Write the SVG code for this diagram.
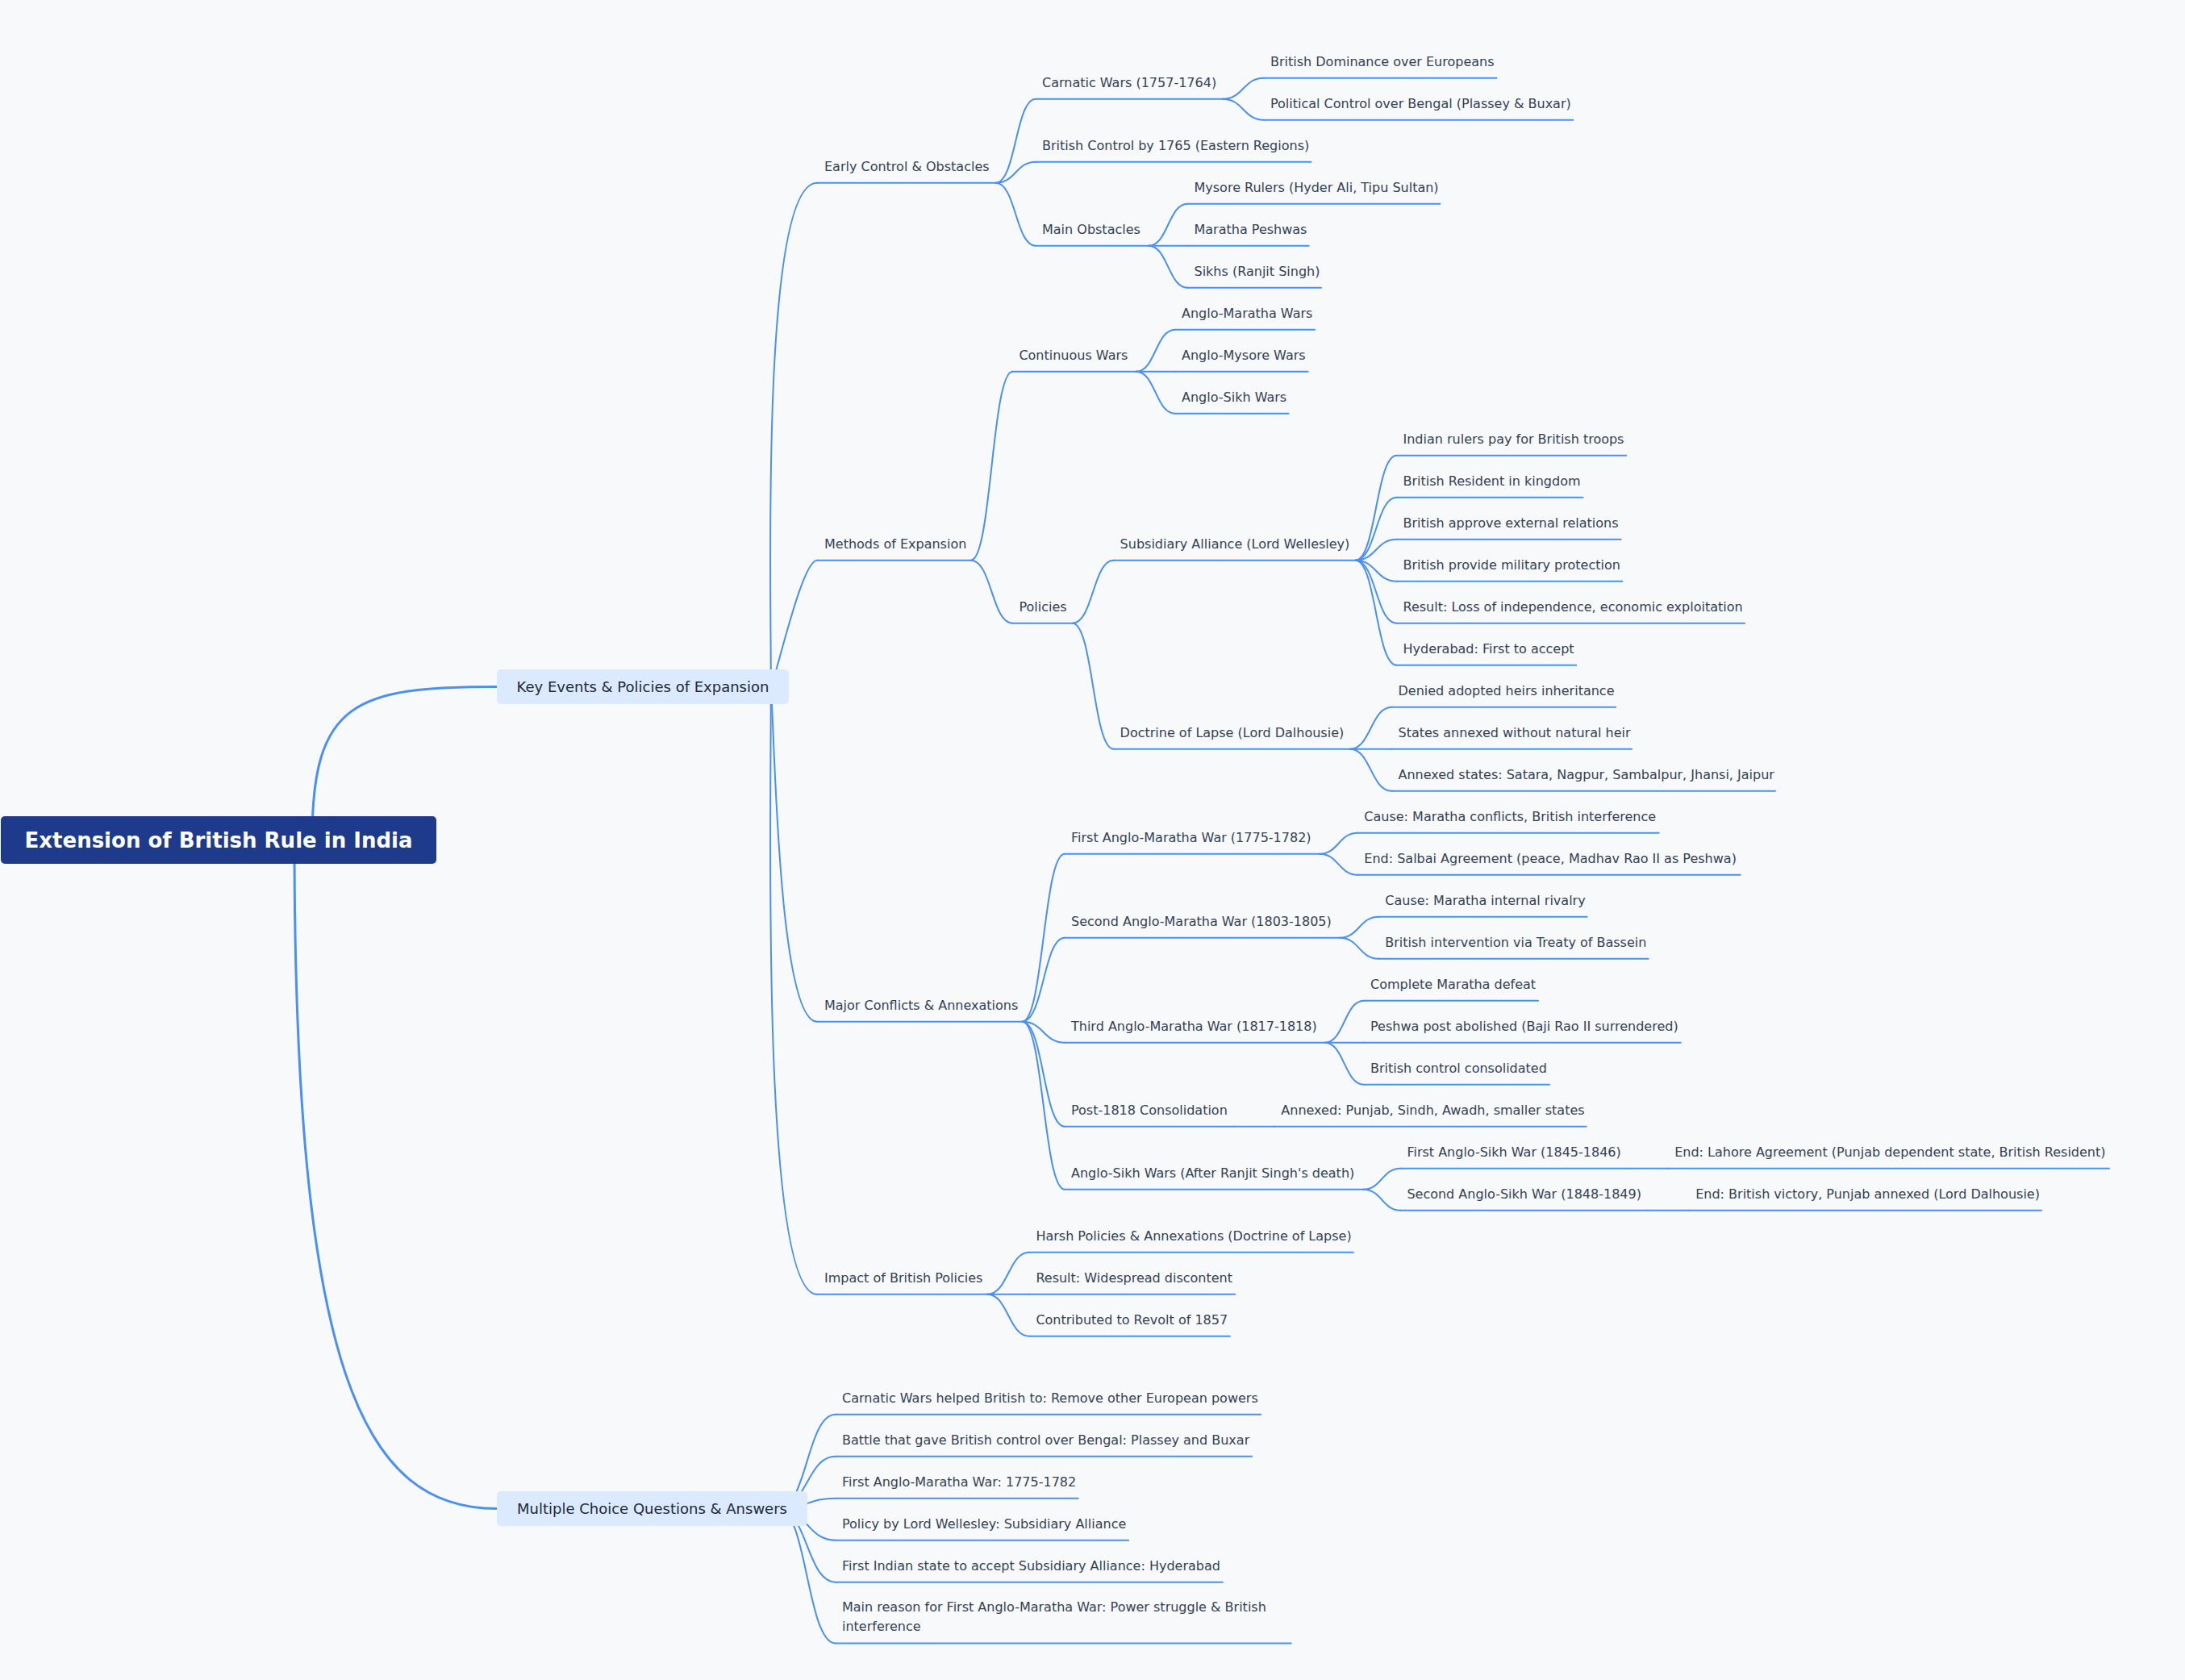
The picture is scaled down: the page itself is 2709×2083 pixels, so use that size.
<svg xmlns="http://www.w3.org/2000/svg" width="2709" height="2083" viewBox="0 0 2709 2083">
<style>
.bg{fill:#f8f9fb}
.lk{fill:none;stroke:#4a8ff2;stroke-width:2;stroke-linecap:round}
.lk0{fill:none;stroke:#4a8ff2;stroke-width:3;stroke-linecap:round}
.ul{stroke:#4a8ff2;stroke-width:2;stroke-linecap:round}
.t{font-family:"DejaVu Sans",sans-serif;font-size:16px;fill:#334155}
.b1{fill:#dbeafe}
.t1{font-family:"DejaVu Sans",sans-serif;font-size:18px;fill:#1e293b;text-anchor:middle}
.rb{fill:#1e3a8a}
.rt{font-family:"DejaVu Sans",sans-serif;font-size:26px;font-weight:bold;fill:#ffffff;text-anchor:middle}
</style>
<rect class="bg" x="0" y="0" width="2709" height="2083"/>
<g id="connectors">
<path class="lk0" d="M387,1041 C387,870 440,851.5 616,851.5"/>
<path class="lk0" d="M365,1041 C365,1700 450,1870.5 616,1870.5"/>
<path class="lk" d="M955,851.5 C960,851.5 935,226.7 1013,226.7"/>
<path class="lk" d="M955,851.5 C960,851.5 993,694.7 1013,694.7"/>
<path class="lk" d="M955,851.5 C960,851.5 961,1266.7 1013,1266.7"/>
<path class="lk" d="M955,851.5 C960,851.5 935,1604.7 1013,1604.7"/>
<path class="lk" d="M1234.6,226.7 C1259.3,226.7 1259.3,122.7 1284,122.7"/>
<path class="lk" d="M1234.6,226.7 C1259.3,226.7 1259.3,200.7 1284,200.7"/>
<path class="lk" d="M1234.6,226.7 C1259.3,226.7 1259.3,304.7 1284,304.7"/>
<path class="lk" d="M1516,122.7 C1541.5,122.7 1541.5,96.7 1567,96.7"/>
<path class="lk" d="M1516,122.7 C1541.5,122.7 1541.5,148.7 1567,148.7"/>
<path class="lk" d="M1424,304.7 C1448.2,304.7 1448.2,252.7 1472.5,252.7"/>
<path class="lk" d="M1424,304.7 L1472.5,304.7"/>
<path class="lk" d="M1424,304.7 C1448.2,304.7 1448.2,356.7 1472.5,356.7"/>
<path class="lk" d="M1203.7,694.7 C1229.5,694.7 1229.5,460.7 1255.4,460.7"/>
<path class="lk" d="M1203.7,694.7 C1229.5,694.7 1229.5,772.7 1255.4,772.7"/>
<path class="lk" d="M1408.5,460.7 C1432.7,460.7 1432.7,408.7 1457,408.7"/>
<path class="lk" d="M1408.5,460.7 L1457,460.7"/>
<path class="lk" d="M1408.5,460.7 C1432.7,460.7 1432.7,512.7 1457,512.7"/>
<path class="lk" d="M1329.7,772.7 C1355.1,772.7 1355.1,694.7 1380.6,694.7"/>
<path class="lk" d="M1329.7,772.7 C1355.1,772.7 1355.1,928.7 1380.6,928.7"/>
<path class="lk" d="M1680.5,694.7 C1706,694.7 1706,564.7 1731.5,564.7"/>
<path class="lk" d="M1680.5,694.7 C1706,694.7 1706,616.7 1731.5,616.7"/>
<path class="lk" d="M1680.5,694.7 C1706,694.7 1706,668.7 1731.5,668.7"/>
<path class="lk" d="M1680.5,694.7 C1706,694.7 1706,720.7 1731.5,720.7"/>
<path class="lk" d="M1680.5,694.7 C1706,694.7 1706,772.7 1731.5,772.7"/>
<path class="lk" d="M1680.5,694.7 C1706,694.7 1706,824.7 1731.5,824.7"/>
<path class="lk" d="M1673.8,928.7 C1699.6,928.7 1699.6,876.7 1725.5,876.7"/>
<path class="lk" d="M1673.8,928.7 L1725.5,928.7"/>
<path class="lk" d="M1673.8,928.7 C1699.6,928.7 1699.6,980.7 1725.5,980.7"/>
<path class="lk" d="M1267.4,1266.7 C1293.7,1266.7 1293.7,1058.7 1320,1058.7"/>
<path class="lk" d="M1267.4,1266.7 C1293.7,1266.7 1293.7,1162.7 1320,1162.7"/>
<path class="lk" d="M1267.4,1266.7 C1293.7,1266.7 1293.7,1292.7 1320,1292.7"/>
<path class="lk" d="M1267.4,1266.7 C1293.7,1266.7 1293.7,1396.7 1320,1396.7"/>
<path class="lk" d="M1267.4,1266.7 C1293.7,1266.7 1293.7,1474.7 1320,1474.7"/>
<path class="lk" d="M1636,1058.7 C1659.6,1058.7 1659.6,1032.7 1683.3,1032.7"/>
<path class="lk" d="M1636,1058.7 C1659.6,1058.7 1659.6,1084.7 1683.3,1084.7"/>
<path class="lk" d="M1661,1162.7 C1685.1,1162.7 1685.1,1136.7 1709.3,1136.7"/>
<path class="lk" d="M1661,1162.7 C1685.1,1162.7 1685.1,1188.7 1709.3,1188.7"/>
<path class="lk" d="M1642.5,1292.7 C1666.7,1292.7 1666.7,1240.7 1691,1240.7"/>
<path class="lk" d="M1642.5,1292.7 L1691,1292.7"/>
<path class="lk" d="M1642.5,1292.7 C1666.7,1292.7 1666.7,1344.7 1691,1344.7"/>
<path class="lk" d="M1530,1396.7 L1580.3,1396.7"/>
<path class="lk" d="M1690.2,1474.7 C1713.3,1474.7 1713.3,1448.7 1736.4,1448.7"/>
<path class="lk" d="M1690.2,1474.7 C1713.3,1474.7 1713.3,1500.7 1736.4,1500.7"/>
<path class="lk" d="M2020,1448.7 L2068.2,1448.7"/>
<path class="lk" d="M2043,1500.7 L2094.2,1500.7"/>
<path class="lk" d="M1223.8,1604.7 C1250.1,1604.7 1250.1,1552.7 1276.4,1552.7"/>
<path class="lk" d="M1223.8,1604.7 L1276.4,1604.7"/>
<path class="lk" d="M1223.8,1604.7 C1250.1,1604.7 1250.1,1656.7 1276.4,1656.7"/>
<path class="lk" d="M965,1870.5 C1000.5,1870.5 1000.5,1753.7 1036,1753.7"/>
<path class="lk" d="M965,1870.5 C1000.5,1870.5 1000.5,1805.7 1036,1805.7"/>
<path class="lk" d="M965,1870.5 C1000.5,1870.5 1000.5,1857.7 1036,1857.7"/>
<path class="lk" d="M965,1870.5 C1000.5,1870.5 1000.5,1909.7 1036,1909.7"/>
<path class="lk" d="M965,1870.5 C1000.5,1870.5 1000.5,1961.7 1036,1961.7"/>
<path class="lk" d="M965,1870.5 C1000.5,1870.5 1000.5,2037.5 1036,2037.5"/>
</g>
<g id="n-root"><rect class="rb" x="1" y="1012" width="540" height="59" rx="5"/><text class="rt" x="271" y="1050.5">Extension of British Rule in India</text></g>
<g id="n-key"><rect class="b1" x="616" y="830" width="362" height="43" rx="5"/><text class="t1" x="797" y="858">Key Events &amp; Policies of Expansion</text></g>
<g id="n-mcq"><rect class="b1" x="616" y="1849" width="385" height="43" rx="5"/><text class="t1" x="808.5" y="1877">Multiple Choice Questions &amp; Answers</text></g>

<g id="n-early"><line class="ul" x1="1013" y1="226.7" x2="1234.6" y2="226.7"/><text class="t" x="1022" y="212">Early Control &amp; Obstacles</text></g>
<g id="n-carnatic"><line class="ul" x1="1284" y1="122.7" x2="1516" y2="122.7"/><text class="t" x="1292" y="108">Carnatic Wars (1757-1764)</text></g>
<g id="n-dominance"><line class="ul" x1="1567" y1="96.7" x2="1855.5" y2="96.7"/><text class="t" x="1575" y="82">British Dominance over Europeans</text></g>
<g id="n-bengal"><line class="ul" x1="1567" y1="148.7" x2="1950.2" y2="148.7"/><text class="t" x="1575" y="134">Political Control over Bengal (Plassey &amp; Buxar)</text></g>
<g id="n-control1765"><line class="ul" x1="1284" y1="200.7" x2="1625.4" y2="200.7"/><text class="t" x="1292" y="186">British Control by 1765 (Eastern Regions)</text></g>
<g id="n-obstacles"><line class="ul" x1="1284" y1="304.7" x2="1424" y2="304.7"/><text class="t" x="1292" y="290">Main Obstacles</text></g>
<g id="n-mysore"><line class="ul" x1="1472.5" y1="252.7" x2="1785.3" y2="252.7"/><text class="t" x="1480.5" y="238">Mysore Rulers (Hyder Ali, Tipu Sultan)</text></g>
<g id="n-peshwas"><line class="ul" x1="1472.5" y1="304.7" x2="1622.6" y2="304.7"/><text class="t" x="1480.5" y="290">Maratha Peshwas</text></g>
<g id="n-sikhs"><line class="ul" x1="1472.5" y1="356.7" x2="1638" y2="356.7"/><text class="t" x="1480.5" y="342">Sikhs (Ranjit Singh)</text></g>

<g id="n-methods"><line class="ul" x1="1013" y1="694.7" x2="1203.7" y2="694.7"/><text class="t" x="1022" y="680">Methods of Expansion</text></g>
<g id="n-continuous"><line class="ul" x1="1255.4" y1="460.7" x2="1408.5" y2="460.7"/><text class="t" x="1263.4" y="446">Continuous Wars</text></g>
<g id="n-amw"><line class="ul" x1="1457" y1="408.7" x2="1630" y2="408.7"/><text class="t" x="1465" y="394">Anglo-Maratha Wars</text></g>
<g id="n-amyw"><line class="ul" x1="1457" y1="460.7" x2="1621.6" y2="460.7"/><text class="t" x="1465" y="446">Anglo-Mysore Wars</text></g>
<g id="n-asw"><line class="ul" x1="1457" y1="512.7" x2="1597.5" y2="512.7"/><text class="t" x="1465" y="498">Anglo-Sikh Wars</text></g>
<g id="n-policies"><line class="ul" x1="1255.4" y1="772.7" x2="1329.7" y2="772.7"/><text class="t" x="1263.4" y="758">Policies</text></g>
<g id="n-subsidiary"><line class="ul" x1="1380.6" y1="694.7" x2="1680.5" y2="694.7"/><text class="t" x="1388.6" y="680">Subsidiary Alliance (Lord Wellesley)</text></g>
<g id="n-sa1"><line class="ul" x1="1731.5" y1="564.7" x2="2016.3" y2="564.7"/><text class="t" x="1739.5" y="550">Indian rulers pay for British troops</text></g>
<g id="n-sa2"><line class="ul" x1="1731.5" y1="616.7" x2="1962.4" y2="616.7"/><text class="t" x="1739.5" y="602">British Resident in kingdom</text></g>
<g id="n-sa3"><line class="ul" x1="1731.5" y1="668.7" x2="2009.6" y2="668.7"/><text class="t" x="1739.5" y="654">British approve external relations</text></g>
<g id="n-sa4"><line class="ul" x1="1731.5" y1="720.7" x2="2011.3" y2="720.7"/><text class="t" x="1739.5" y="706">British provide military protection</text></g>
<g id="n-sa5"><line class="ul" x1="1731.5" y1="772.7" x2="2163" y2="772.7"/><text class="t" x="1739.5" y="758">Result: Loss of independence, economic exploitation</text></g>
<g id="n-sa6"><line class="ul" x1="1731.5" y1="824.7" x2="1954.1" y2="824.7"/><text class="t" x="1739.5" y="810">Hyderabad: First to accept</text></g>
<g id="n-doctrine"><line class="ul" x1="1380.6" y1="928.7" x2="1673.8" y2="928.7"/><text class="t" x="1388.6" y="914">Doctrine of Lapse (Lord Dalhousie)</text></g>
<g id="n-dl1"><line class="ul" x1="1725.5" y1="876.7" x2="2003" y2="876.7"/><text class="t" x="1733.5" y="862">Denied adopted heirs inheritance</text></g>
<g id="n-dl2"><line class="ul" x1="1725.5" y1="928.7" x2="2023" y2="928.7"/><text class="t" x="1733.5" y="914">States annexed without natural heir</text></g>
<g id="n-dl3"><line class="ul" x1="1725.5" y1="980.7" x2="2201" y2="980.7"/><text class="t" x="1733.5" y="966">Annexed states: Satara, Nagpur, Sambalpur, Jhansi, Jaipur</text></g>

<g id="n-major"><line class="ul" x1="1013" y1="1266.7" x2="1267.4" y2="1266.7"/><text class="t" x="1022" y="1252">Major Conflicts &amp; Annexations</text></g>
<g id="n-famw"><line class="ul" x1="1320" y1="1058.7" x2="1636" y2="1058.7"/><text class="t" x="1328" y="1044">First Anglo-Maratha War (1775-1782)</text></g>
<g id="n-famw1"><line class="ul" x1="1683.3" y1="1032.7" x2="2056.7" y2="1032.7"/><text class="t" x="1691.3" y="1018">Cause: Maratha conflicts, British interference</text></g>
<g id="n-famw2"><line class="ul" x1="1683.3" y1="1084.7" x2="2157.5" y2="1084.7"/><text class="t" x="1691.3" y="1070">End: Salbai Agreement (peace, Madhav Rao II as Peshwa)</text></g>
<g id="n-samw"><line class="ul" x1="1320" y1="1162.7" x2="1661" y2="1162.7"/><text class="t" x="1328" y="1148">Second Anglo-Maratha War (1803-1805)</text></g>
<g id="n-samw1"><line class="ul" x1="1709.3" y1="1136.7" x2="1967.7" y2="1136.7"/><text class="t" x="1717.3" y="1122">Cause: Maratha internal rivalry</text></g>
<g id="n-samw2"><line class="ul" x1="1709.3" y1="1188.7" x2="2043.6" y2="1188.7"/><text class="t" x="1717.3" y="1174">British intervention via Treaty of Bassein</text></g>
<g id="n-tamw"><line class="ul" x1="1320" y1="1292.7" x2="1642.5" y2="1292.7"/><text class="t" x="1328" y="1278">Third Anglo-Maratha War (1817-1818)</text></g>
<g id="n-tamw1"><line class="ul" x1="1691" y1="1240.7" x2="1907" y2="1240.7"/><text class="t" x="1699" y="1226">Complete Maratha defeat</text></g>
<g id="n-tamw2"><line class="ul" x1="1691" y1="1292.7" x2="2083.7" y2="1292.7"/><text class="t" x="1699" y="1278">Peshwa post abolished (Baji Rao II surrendered)</text></g>
<g id="n-tamw3"><line class="ul" x1="1691" y1="1344.7" x2="1921" y2="1344.7"/><text class="t" x="1699" y="1330">British control consolidated</text></g>
<g id="n-post1818"><line class="ul" x1="1320" y1="1396.7" x2="1530" y2="1396.7"/><text class="t" x="1328" y="1382">Post-1818 Consolidation</text></g>
<g id="n-annexed"><line class="ul" x1="1580.3" y1="1396.7" x2="1966.7" y2="1396.7"/><text class="t" x="1588.3" y="1382">Annexed: Punjab, Sindh, Awadh, smaller states</text></g>
<g id="n-aswars"><line class="ul" x1="1320" y1="1474.7" x2="1690.2" y2="1474.7"/><text class="t" x="1328" y="1460">Anglo-Sikh Wars (After Ranjit Singh's death)</text></g>
<g id="n-fasw"><line class="ul" x1="1736.4" y1="1448.7" x2="2020" y2="1448.7"/><text class="t" x="1744.4" y="1434">First Anglo-Sikh War (1845-1846)</text></g>
<g id="n-fasw1"><line class="ul" x1="2068.2" y1="1448.7" x2="2615" y2="1448.7"/><text class="t" x="2076.2" y="1434">End: Lahore Agreement (Punjab dependent state, British Resident)</text></g>
<g id="n-sasw"><line class="ul" x1="1736.4" y1="1500.7" x2="2043" y2="1500.7"/><text class="t" x="1744.4" y="1486">Second Anglo-Sikh War (1848-1849)</text></g>
<g id="n-sasw1"><line class="ul" x1="2094.2" y1="1500.7" x2="2531" y2="1500.7"/><text class="t" x="2102.2" y="1486">End: British victory, Punjab annexed (Lord Dalhousie)</text></g>

<g id="n-impact"><line class="ul" x1="1013" y1="1604.7" x2="1223.8" y2="1604.7"/><text class="t" x="1022" y="1590">Impact of British Policies</text></g>
<g id="n-imp1"><line class="ul" x1="1276.4" y1="1552.7" x2="1677.9" y2="1552.7"/><text class="t" x="1284.4" y="1538">Harsh Policies &amp; Annexations (Doctrine of Lapse)</text></g>
<g id="n-imp2"><line class="ul" x1="1276.4" y1="1604.7" x2="1531.2" y2="1604.7"/><text class="t" x="1284.4" y="1590">Result: Widespread discontent</text></g>
<g id="n-imp3"><line class="ul" x1="1276.4" y1="1656.7" x2="1524.8" y2="1656.7"/><text class="t" x="1284.4" y="1642">Contributed to Revolt of 1857</text></g>

<g id="n-q1"><line class="ul" x1="1036" y1="1753.7" x2="1563.1" y2="1753.7"/><text class="t" x="1044" y="1739">Carnatic Wars helped British to: Remove other European powers</text></g>
<g id="n-q2"><line class="ul" x1="1036" y1="1805.7" x2="1552.2" y2="1805.7"/><text class="t" x="1044" y="1791">Battle that gave British control over Bengal: Plassey and Buxar</text></g>
<g id="n-q3"><line class="ul" x1="1036" y1="1857.7" x2="1336.7" y2="1857.7"/><text class="t" x="1044" y="1843">First Anglo-Maratha War: 1775-1782</text></g>
<g id="n-q4"><line class="ul" x1="1036" y1="1909.7" x2="1399.2" y2="1909.7"/><text class="t" x="1044" y="1895">Policy by Lord Wellesley: Subsidiary Alliance</text></g>
<g id="n-q5"><line class="ul" x1="1036" y1="1961.7" x2="1515.9" y2="1961.7"/><text class="t" x="1044" y="1947">First Indian state to accept Subsidiary Alliance: Hyderabad</text></g>
<g id="n-q6"><line class="ul" x1="1036" y1="2037.5" x2="1600.7" y2="2037.5"/><text class="t" x="1044" y="1998.3">Main reason for First Anglo-Maratha War: Power struggle &amp; British</text><text class="t" x="1044" y="2022.3">interference</text></g>
</svg>
